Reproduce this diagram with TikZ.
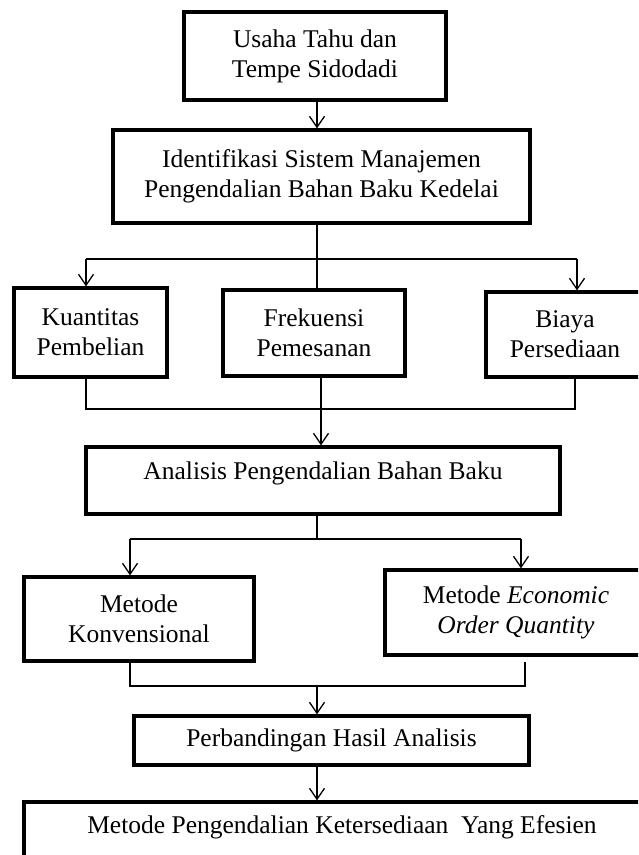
\documentclass[tikz,border=0pt]{standalone}
\usepackage{fontspec}
\setmainfont{Liberation Serif}
\usetikzlibrary{arrows.meta,calc}
\begin{document}
\begin{tikzpicture}[x=1pt,y=-1pt,
  txt/.style={align=center,inner sep=0pt,font=\fontsize{25.5}{30}\selectfont},
  box/.style={txt,draw,line width=3.2pt,rectangle},
  conn/.style={line width=1.3pt},
  arr/.style={conn,-{Straight Barb[length=11pt,width=15pt]}}]
\useasboundingbox (0,0) rectangle (638,855);
\clip (0,0) rectangle (638,855);
% boxes
\node[box,minimum width=262pt,minimum height=88pt] (B1) at (315,56) {Usaha Tahu dan\\Tempe Sidodadi};
\node[box,minimum width=417pt,minimum height=93pt] (B2) at (321.5,176.5) {Identifikasi Sistem Manajemen\\Pengendalian Bahan Baku Kedelai};
\node[box,minimum width=153pt,minimum height=89pt] (K) at (90.5,332.5) {Kuantitas\\Pembelian};
\node[box,minimum width=182pt,minimum height=86pt] (F) at (314,333) {Frekuensi\\Pemesanan};
\node[box,minimum width=158pt,minimum height=85pt] (Bi) at (565,334.5) {Biaya\\Persediaan};
\node[box,minimum width=474pt,minimum height=67pt] (A) at (323,480.5) {};
\node[txt] (At) at (323,473) {Analisis Pengendalian Bahan Baku};
\node[box,minimum width=230pt,minimum height=84pt] (MK) at (139,619) {Metode\\Konvensional};
\node[box,minimum width=262pt,minimum height=85pt] (E) at (516,612.5) {Metode \textit{Economic}\\\textit{Order Quantity}};
\node[box,minimum width=395pt,minimum height=49pt] (P) at (331.5,740.5) {Perbandingan Hasil Analisis};
\node[box,minimum width=636pt,minimum height=67pt] (M) at (342,835.5) {};
\node[txt] (Mt) at (342,827) {Metode Pengendalian Ketersediaan\ \ Yang Efesien};
% helper coordinates
\coordinate (t1) at (317,0);
\coordinate (t2) at (321,0);
\coordinate (xk) at (86,0);
\coordinate (xbi) at (577,0);
\coordinate (xbi2) at (575,0);
\coordinate (xmk) at (130,0);
\coordinate (xe) at (521,0);
\coordinate (xe2) at (525,0);
\coordinate (y1) at (0,259);
\coordinate (y2) at (0,409);
\coordinate (y3) at (0,539);
\coordinate (y4) at (0,686);
\coordinate (y5) at (0,662);
% connectors
\draw[arr] (B1.south -| t1) -- (B2.north -| t1);
\draw[conn] (B2.south -| t1) -- (F.north -| t1);
\draw[conn] (y1 -| xk) -- (y1 -| xbi);
\draw[arr] (y1 -| xk) -- (K.north -| xk);
\draw[arr] (y1 -| xbi) -- (Bi.north -| xbi);
\draw[conn] (K.south -| xk) -- (y2 -| xk) -- (y2 -| xbi2) -- (Bi.south -| xbi2);
\draw[arr] (F.south -| t2) -- (A.north -| t2);
\draw[conn] (A.south -| t1) -- (y3 -| t1);
\draw[conn] (y3 -| xmk) -- (y3 -| xe);
\draw[arr] (y3 -| xmk) -- (MK.north -| xmk);
\draw[arr] (y3 -| xe) -- (E.north -| xe);
\draw[conn] (MK.south -| xmk) -- (y4 -| xmk) -- (y4 -| xe2) -- (y5 -| xe2);
\draw[arr] (y4 -| t1) -- (P.north -| t1);
\draw[arr] (P.south -| t1) -- (M.north -| t1);
\end{tikzpicture}
\end{document}
